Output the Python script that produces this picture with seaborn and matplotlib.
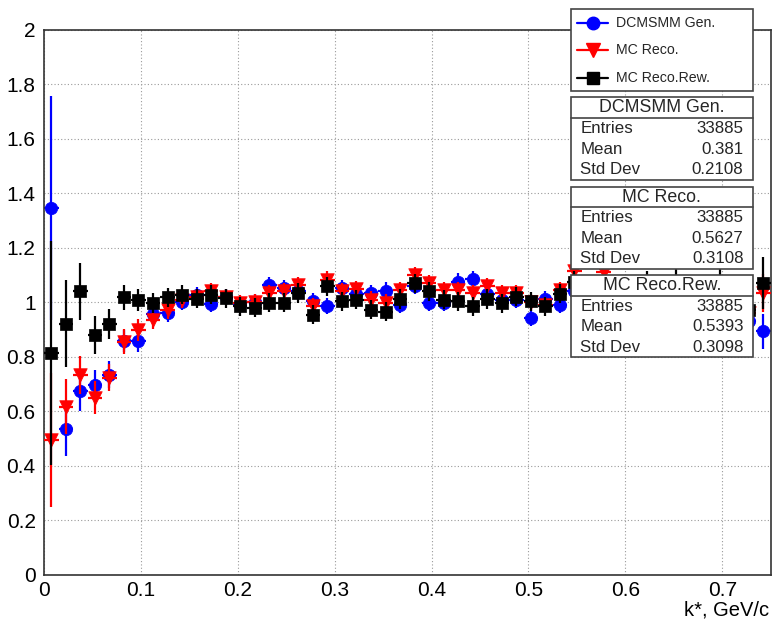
import numpy as np
import pandas as pd
import matplotlib
matplotlib.use("Agg")
import matplotlib.pyplot as plt
import seaborn as sns
from matplotlib.lines import Line2D
from matplotlib.patches import Rectangle
from matplotlib.ticker import MultipleLocator

# ---------------- data ----------------
k_star = [0.0075, 0.0225, 0.0375, 0.0525, 0.0675, 0.0825, 0.0975, 0.1125, 0.1275, 0.1425,
          0.1575, 0.1725, 0.1875, 0.2025, 0.2175, 0.2325, 0.2475, 0.2625, 0.2775, 0.2925,
          0.3075, 0.3225, 0.3375, 0.3525, 0.3675, 0.3825, 0.3975, 0.4125, 0.4275, 0.4425,
          0.4575, 0.4725, 0.4875, 0.5025, 0.5175, 0.5325, 0.5475, 0.5625, 0.5775, 0.5925,
          0.6075, 0.6225, 0.6375, 0.6525, 0.6675, 0.6825, 0.6975, 0.7125, 0.7275, 0.7425]
half_bin = 0.0075

gen_vals = [1.345, 0.537, 0.673, 0.697, 0.734, 0.857, 0.858, 0.958, 0.960, 1.000,
            1.025, 0.995, 1.020, 0.990, 1.000, 1.064, 1.053, 1.040, 1.003, 0.987,
            1.053, 1.030, 1.034, 1.043, 0.990, 1.060, 0.997, 0.997, 1.076, 1.085,
            1.030, 1.010, 1.010, 0.942, 1.013, 0.990, 1.040, 1.000, 1.030, 1.060,
            1.000, 1.010, 0.980, 1.020, 1.000, 0.970, 0.990, 0.960, 0.930, 0.893]
gen_errs = [0.410, 0.100, 0.070, 0.055, 0.050, 0.040, 0.040, 0.035, 0.033, 0.030,
            0.030, 0.030, 0.030, 0.030, 0.030, 0.030, 0.030, 0.030, 0.030, 0.030,
            0.030, 0.030, 0.030, 0.030, 0.030, 0.030, 0.030, 0.030, 0.030, 0.030,
            0.030, 0.030, 0.030, 0.030, 0.030, 0.030, 0.035, 0.035, 0.035, 0.040,
            0.040, 0.040, 0.040, 0.045, 0.045, 0.045, 0.050, 0.050, 0.055, 0.065]

reco_vals = [0.495, 0.617, 0.734, 0.650, 0.724, 0.856, 0.899, 0.936, 0.972, 1.010,
             1.020, 1.040, 1.020, 0.998, 1.000, 1.034, 1.040, 1.064, 0.985, 1.083,
             1.040, 1.049, 1.010, 0.999, 1.046, 1.100, 1.070, 1.046, 1.046, 1.034,
             1.058, 1.034, 1.035, 1.000, 0.990, 1.045, 1.113, 1.050, 1.112, 1.050,
             1.020, 1.040, 1.000, 1.050, 1.030, 1.000, 1.020, 0.990, 0.960, 1.034]
reco_errs = [0.245, 0.100, 0.070, 0.060, 0.050, 0.045, 0.040, 0.035, 0.033, 0.030,
             0.030, 0.030, 0.030, 0.030, 0.030, 0.030, 0.030, 0.030, 0.030, 0.030,
             0.030, 0.030, 0.030, 0.030, 0.030, 0.030, 0.030, 0.030, 0.030, 0.030,
             0.030, 0.030, 0.030, 0.030, 0.030, 0.030, 0.035, 0.035, 0.035, 0.040,
             0.040, 0.040, 0.040, 0.045, 0.045, 0.045, 0.050, 0.050, 0.055, 0.070]

rew_vals = [0.814, 0.921, 1.040, 0.881, 0.921, 1.018, 1.007, 0.998, 1.018, 1.027,
            1.013, 1.027, 1.015, 0.985, 0.980, 0.999, 0.999, 1.034, 0.954, 1.058,
            1.003, 1.010, 0.973, 0.966, 1.012, 1.070, 1.040, 1.010, 1.003, 0.985,
            1.012, 0.997, 1.020, 1.003, 0.985, 1.032, 1.075, 1.020, 1.040, 1.010,
            0.990, 1.050, 0.990, 1.070, 1.000, 0.980, 1.050, 0.970, 0.973, 1.070]
rew_errs = [0.410, 0.160, 0.105, 0.070, 0.055, 0.045, 0.040, 0.037, 0.035, 0.035,
            0.035, 0.035, 0.035, 0.035, 0.035, 0.035, 0.035, 0.035, 0.035, 0.035,
            0.035, 0.035, 0.035, 0.035, 0.035, 0.035, 0.035, 0.035, 0.035, 0.035,
            0.035, 0.035, 0.035, 0.035, 0.035, 0.035, 0.040, 0.040, 0.040, 0.045,
            0.050, 0.065, 0.050, 0.070, 0.055, 0.055, 0.075, 0.060, 0.060, 0.095]

series_names = ["DCMSMM Gen.", "MC Reco.", "MC Reco.Rew."]
series_colors = ["#0000ff", "#ff0000", "#000000"]
series_markers = ["o", "v", "s"]

stats_entries = [33885, 33885, 33885]
stats_means = ["0.381", "0.5627", "0.5393"]
stats_stds = ["0.2108", "0.3108", "0.3098"]

x_label = "k*, GeV/c"

# ---------------- style ----------------
sns.set_theme(style="white")
plt.rcParams["font.family"] = ["Liberation Sans", "DejaVu Sans"]

W, H = 773, 623
fig = plt.figure(figsize=(W / 100, H / 100), dpi=100)
fig.patch.set_facecolor("white")

def fx(px):
    return px / W

def fy(py):
    return 1 - py / H

left, right, top, bottom = 44, 770.7, 29.5, 575
ax = fig.add_axes([fx(left), fy(bottom), (right - left) / W, (bottom - top) / H])
ax.set_facecolor("white")

frames = []
for name, vals, errs in [(series_names[0], gen_vals, gen_errs),
                         (series_names[1], reco_vals, reco_errs),
                         (series_names[2], rew_vals, rew_errs)]:
    frames.append(pd.DataFrame({"k": k_star, "ratio": vals, "err": errs, "series": name}))
df = pd.concat(frames, ignore_index=True)

for i, name in enumerate(series_names):
    sub = df[df["series"] == name]
    ax.errorbar(sub["k"], sub["ratio"], yerr=sub["err"], xerr=half_bin, fmt="none",
                ecolor=series_colors[i], elinewidth=1.6, capsize=0, zorder=2 + 2 * i)
    sns.scatterplot(data=sub, x="k", y="ratio", ax=ax, color=series_colors[i],
                    marker=series_markers[i], s=80 if i != 1 else 95,
                    edgecolor=series_colors[i], linewidth=0.5, zorder=3 + 2 * i,
                    legend=False)

ax.set_xlim(0, 0.75)
ax.set_ylim(0, 2)
ax.xaxis.set_minor_locator(MultipleLocator(0.02))
ax.yaxis.set_minor_locator(MultipleLocator(0.05))
ax.set_yticks([0, 0.2, 0.4, 0.6, 0.8, 1.0, 1.2, 1.4, 1.6, 1.8, 2.0])
ax.set_yticklabels(["0", "0.2", "0.4", "0.6", "0.8", "1", "1.2", "1.4", "1.6", "1.8", "2"])
ax.set_xticks([0, 0.1, 0.2, 0.3, 0.4, 0.5, 0.6, 0.7])
ax.set_xticklabels(["0", "0.1", "0.2", "0.3", "0.4", "0.5", "0.6", "0.7"])

ax.grid(True, which="major", color="#9a9a9a", linestyle=(0, (1, 2)), linewidth=0.8)
ax.set_axisbelow(True)
ax.tick_params(axis="both", which="both", direction="in", colors="black",
               top=False, right=False, labelsize=15)
ax.tick_params(axis="y", which="major", length=15, width=1, pad=6)
ax.tick_params(axis="y", which="minor", length=7.5, width=1)
ax.tick_params(axis="x", which="major", length=12, width=1, pad=4)
ax.tick_params(axis="x", which="minor", length=6, width=1)
for sp in ax.spines.values():
    sp.set_color("#333333")
    sp.set_linewidth(1.2)
ax.set_xlabel(x_label, fontsize=14.5, color="black", ha="right", va="top")
ax.xaxis.set_label_coords(0.9975, -(601 - bottom) / (bottom - top))
ax.set_ylabel("")

# ---------------- legend box ----------------
def fig_rect(x0, y0, x1, y1):
    r = Rectangle((fx(x0), fy(y1)), fx(x1) - fx(x0), fy(y0) - fy(y1),
                  transform=fig.transFigure, facecolor="white",
                  edgecolor="#444444", linewidth=1.2, zorder=20)
    fig.patches.append(r)

fig_rect(570.7, 9.3, 752.7, 90.7)
leg_rows = [23, 50, 77.5]
for i, name in enumerate(series_names):
    y = fy(leg_rows[i])
    fig.lines.append(Line2D([fx(577), fx(608)], [y, y], transform=fig.transFigure,
                            color=series_colors[i], linewidth=1.6, zorder=21))
    fig.lines.append(Line2D([fx(592.5)], [y], transform=fig.transFigure,
                            marker=series_markers[i], markersize=9 if i != 1 else 9.8,
                            color=series_colors[i], linestyle="none", zorder=22))
    fig.text(fx(616), y, name, fontsize=10.2, ha="left", va="center", zorder=23)

# ---------------- stats boxes ----------------
boxes = [(97, 179.5), (186.5, 268.5), (275, 357)]
for i, (y0, y1) in enumerate(boxes):
    fig_rect(570.7, y0, 752.7, y1)
    hl = y0 + 20.5
    fig.lines.append(Line2D([fx(570.7), fx(752.7)], [fy(hl), fy(hl)],
                            transform=fig.transFigure, color="#444444",
                            linewidth=1.2, zorder=21))
    fig.text(fx(661.7), fy((y0 + hl) / 2 + 0.5), series_names[i], fontsize=12.8,
             ha="center", va="center", zorder=23)
    rows = [("Entries", str(stats_entries[i])), ("Mean", stats_means[i]),
            ("Std Dev", stats_stds[i])]
    row_h = (y1 - hl) / 3
    for j, (lab, val) in enumerate(rows):
        yy = fy(hl + row_h * (j + 0.5) + 0.5)
        fig.text(fx(580.5), yy, lab, fontsize=12.2, ha="left", va="center", zorder=23)
        fig.text(fx(743.5), yy, val, fontsize=12.2, ha="right", va="center", zorder=23)

fig.savefig("out.png", dpi=100, facecolor="white")
